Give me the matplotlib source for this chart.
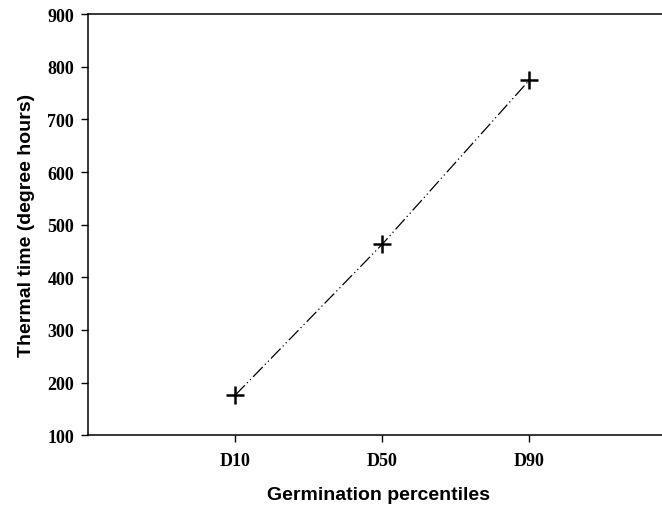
import matplotlib.pyplot as plt
from matplotlib.font_manager import FontProperties

categories = ['D10', 'D50', 'D90']
positions = [1, 2, 3]
thermal_time = [176, 463, 775]
y_ticks = [100, 200, 300, 400, 500, 600, 700, 800, 900]

tick_font = FontProperties(family='Liberation Serif', weight='bold', size=13)
label_font = FontProperties(family='Liberation Sans', weight='bold', size=14)

fig = plt.figure(figsize=(6.62, 5.06), dpi=100)
ax = fig.add_axes([0.133, 0.138, 0.878, 0.832])

ax.plot(positions, thermal_time, color='black', linewidth=0.9,
        linestyle=(0, (11, 2.5, 1, 2.5, 1, 2.5)),
        marker='+', markersize=13, markeredgewidth=1.8, markeredgecolor='black')

ax.set_xlim(0, 3.95)
ax.set_ylim(100, 900)
ax.set_xticks(positions)
ax.set_xticklabels(categories)
ax.set_yticks(y_ticks)

for lbl in ax.get_xticklabels() + ax.get_yticklabels():
    lbl.set_fontproperties(tick_font)

ax.tick_params(axis='y', direction='out', length=5, width=1, pad=5)
ax.tick_params(axis='x', direction='out', length=5, width=1, pad=7)
ax.spines['right'].set_visible(False)
for s in ['left', 'bottom', 'top']:
    ax.spines[s].set_linewidth(1.1)

ax.set_xlabel('Germination percentiles', fontproperties=label_font, labelpad=12)
ax.set_ylabel('Thermal time (degree hours)', fontproperties=label_font, labelpad=9)

fig.savefig('out.png', dpi=100)
